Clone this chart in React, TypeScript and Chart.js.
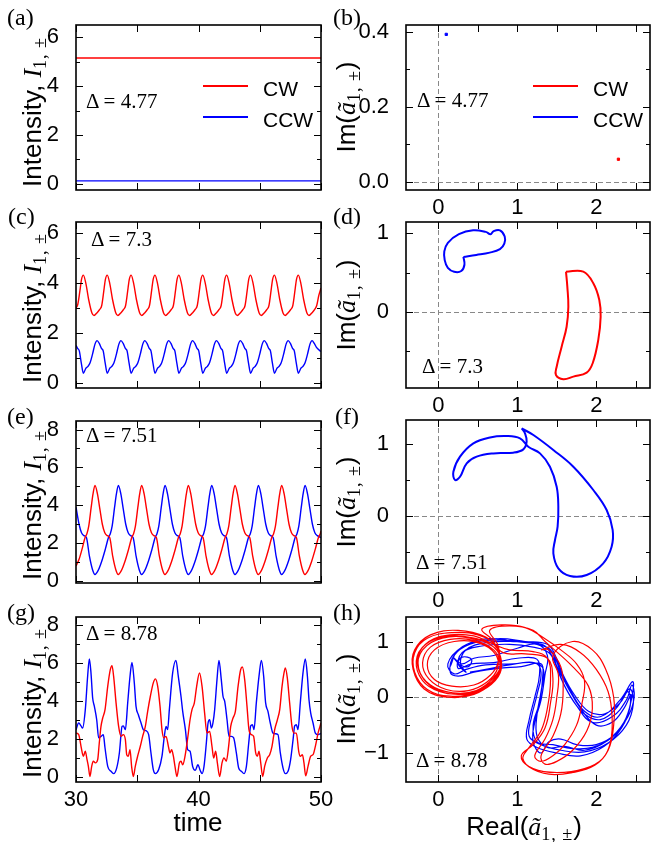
import { useEffect, useRef } from "react";
import type { ReactNode } from "react";
import { Chart, registerables } from "chart.js";

Chart.register(...registerables);

const RED = "#ff0000";
const BLUE = "#0000ff";
const SANS = "'Liberation Sans', Arial, sans-serif";
const SERIF = "'Liberation Serif', 'Times New Roman', serif";

type Pt = [number, number];

// tick values
const timeTicks = [30, 40, 50];
const timeMinor = [35, 45];
const intTicks6 = [0, 2, 4, 6];
const intMinor6 = [1, 3, 5];
const intTicks8 = [0, 2, 4, 6, 8];
const intMinor8 = [1, 3, 5, 7];
const realTicks = [0, 1, 2];
const realMinor = [0.5, 1.5, 2.5];
const imTicksB = [0, 0.2, 0.4];
const imMinorB = [0.1, 0.3];
const imTicksDF = [0, 1];
const imMinorDF = [-0.5, 0.5];
const imTicksH = [-1, 0, 1];
const imMinorH = [-0.5, 0.5];

// (a) steady state, Δ = 4.77
const aCW: Pt[] = [[30, 5.15], [50, 5.15]];
const aCCW: Pt[] = [[30, 0.12], [50, 0.12]];

// (b) fixed points
const bCW: Pt[] = [[2.28, 0.06]];
const bCCW: Pt[] = [[0.1, 0.393]];

// (c) Δ = 7.3
const cCW: Pt[] = [
  [30, 3.0], [30.15, 3.15], [30.35, 3.8], [30.45, 4.15], [30.6, 4.32], [30.8, 4.0], [31.05, 3.3], [31.3, 2.8], [31.47, 2.7], [31.7, 2.8], [31.95, 2.95], [32.1, 3.1], [32.3, 3.8], [32.4, 4.15],
  [32.55, 4.32], [32.75, 4.0], [33.0, 3.3], [33.25, 2.8], [33.42, 2.7], [33.65, 2.8], [33.9, 2.95], [34.05, 3.1], [34.25, 3.8], [34.35, 4.15],
  [34.5, 4.32], [34.7, 4.0], [34.95, 3.3], [35.2, 2.8], [35.37, 2.7], [35.6, 2.8], [35.85, 2.95], [36.0, 3.1], [36.2, 3.8], [36.3, 4.15],
  [36.45, 4.32], [36.65, 4.0], [36.9, 3.3], [37.15, 2.8], [37.32, 2.7], [37.55, 2.8], [37.8, 2.95], [37.95, 3.1], [38.15, 3.8], [38.25, 4.15],
  [38.4, 4.32], [38.6, 4.0], [38.85, 3.3], [39.1, 2.8], [39.27, 2.7], [39.5, 2.8], [39.75, 2.95], [39.9, 3.1], [40.1, 3.8], [40.2, 4.15],
  [40.35, 4.32], [40.55, 4.0], [40.8, 3.3], [41.05, 2.8], [41.22, 2.7], [41.45, 2.8], [41.7, 2.95], [41.85, 3.1], [42.05, 3.8], [42.15, 4.15],
  [42.3, 4.32], [42.5, 4.0], [42.75, 3.3], [43.0, 2.8], [43.17, 2.7], [43.4, 2.8], [43.65, 2.95], [43.8, 3.1], [44.0, 3.8], [44.1, 4.15],
  [44.25, 4.32], [44.45, 4.0], [44.7, 3.3], [44.95, 2.8], [45.12, 2.7], [45.35, 2.8], [45.6, 2.95], [45.75, 3.1], [45.95, 3.8], [46.05, 4.15],
  [46.2, 4.32], [46.4, 4.0], [46.65, 3.3], [46.9, 2.8], [47.07, 2.7], [47.3, 2.8], [47.55, 2.95], [47.7, 3.1], [47.9, 3.8], [48.0, 4.15],
  [48.15, 4.32], [48.35, 4.0], [48.6, 3.3], [48.85, 2.8], [49.02, 2.7], [49.25, 2.8], [49.5, 2.95], [49.65, 3.1], [49.82, 3.5], [50, 3.8],
];
const cCCW: Pt[] = [
  [30, 1.5], [30.13, 1.38], [30.27, 1.28], [30.43, 0.8], [30.6, 0.38], [30.8, 0.58], [30.98, 0.66], [31.15, 0.8], [31.35, 1.15], [31.55, 1.55], [31.72, 1.69], [31.9, 1.58], [32.08, 1.38], [32.22, 1.28], [32.38, 0.8],
  [32.55, 0.38], [32.75, 0.58], [32.93, 0.66], [33.1, 0.8], [33.3, 1.15], [33.5, 1.55], [33.67, 1.69], [33.85, 1.58], [34.03, 1.38], [34.17, 1.28], [34.33, 0.8],
  [34.5, 0.38], [34.7, 0.58], [34.88, 0.66], [35.05, 0.8], [35.25, 1.15], [35.45, 1.55], [35.62, 1.69], [35.8, 1.58], [35.98, 1.38], [36.12, 1.28], [36.28, 0.8],
  [36.45, 0.38], [36.65, 0.58], [36.83, 0.66], [37.0, 0.8], [37.2, 1.15], [37.4, 1.55], [37.57, 1.69], [37.75, 1.58], [37.93, 1.38], [38.07, 1.28], [38.23, 0.8],
  [38.4, 0.38], [38.6, 0.58], [38.78, 0.66], [38.95, 0.8], [39.15, 1.15], [39.35, 1.55], [39.52, 1.69], [39.7, 1.58], [39.88, 1.38], [40.02, 1.28], [40.18, 0.8],
  [40.35, 0.38], [40.55, 0.58], [40.73, 0.66], [40.9, 0.8], [41.1, 1.15], [41.3, 1.55], [41.47, 1.69], [41.65, 1.58], [41.83, 1.38], [41.97, 1.28], [42.13, 0.8],
  [42.3, 0.38], [42.5, 0.58], [42.68, 0.66], [42.85, 0.8], [43.05, 1.15], [43.25, 1.55], [43.42, 1.69], [43.6, 1.58], [43.78, 1.38], [43.92, 1.28], [44.08, 0.8],
  [44.25, 0.38], [44.45, 0.58], [44.63, 0.66], [44.8, 0.8], [45.0, 1.15], [45.2, 1.55], [45.37, 1.69], [45.55, 1.58], [45.73, 1.38], [45.87, 1.28], [46.03, 0.8],
  [46.2, 0.38], [46.4, 0.58], [46.58, 0.66], [46.75, 0.8], [46.95, 1.15], [47.15, 1.55], [47.32, 1.69], [47.5, 1.58], [47.68, 1.38], [47.82, 1.28], [47.98, 0.8],
  [48.15, 0.38], [48.35, 0.58], [48.53, 0.66], [48.7, 0.8], [48.9, 1.15], [49.1, 1.55], [49.27, 1.69], [49.45, 1.58], [49.63, 1.42], [50, 1.25],
];

// (e) Δ = 7.51
const eCW: Pt[] = [
  [30, 0.8], [30.25, 1.15], [30.5, 1.7], [30.74, 2.3], [30.89, 2.5], [31.04, 2.9], [31.24, 3.9], [31.39, 4.6],
  [31.55, 5.05], [31.75, 4.6], [31.95, 3.8], [32.15, 3.0], [32.35, 2.55], [32.55, 2.4], [32.75, 2.3], [33.0, 1.3], [33.25, 0.6], [33.45, 0.35], [33.7, 0.55], [34.0, 1.05], [34.3, 1.7], [34.55, 2.3], [34.7, 2.5], [34.85, 2.9], [35.05, 3.9], [35.2, 4.6],
  [35.36, 5.05], [35.56, 4.6], [35.76, 3.8], [35.96, 3.0], [36.16, 2.55], [36.36, 2.4], [36.56, 2.3], [36.81, 1.3], [37.06, 0.6], [37.26, 0.35], [37.51, 0.55], [37.81, 1.05], [38.11, 1.7], [38.36, 2.3], [38.51, 2.5], [38.66, 2.9], [38.86, 3.9], [39.01, 4.6],
  [39.17, 5.05], [39.37, 4.6], [39.57, 3.8], [39.77, 3.0], [39.97, 2.55], [40.17, 2.4], [40.37, 2.3], [40.62, 1.3], [40.87, 0.6], [41.07, 0.35], [41.32, 0.55], [41.62, 1.05], [41.92, 1.7], [42.17, 2.3], [42.32, 2.5], [42.47, 2.9], [42.67, 3.9], [42.82, 4.6],
  [42.98, 5.05], [43.18, 4.6], [43.38, 3.8], [43.58, 3.0], [43.78, 2.55], [43.98, 2.4], [44.18, 2.3], [44.43, 1.3], [44.68, 0.6], [44.88, 0.35], [45.13, 0.55], [45.43, 1.05], [45.73, 1.7], [45.98, 2.3], [46.13, 2.5], [46.28, 2.9], [46.48, 3.9], [46.63, 4.6],
  [46.79, 5.05], [46.99, 4.6], [47.19, 3.8], [47.39, 3.0], [47.59, 2.55], [47.79, 2.4], [47.99, 2.3], [48.24, 1.3], [48.49, 0.6], [48.69, 0.35], [48.94, 0.55], [49.24, 1.05], [49.54, 1.7], [49.79, 2.3], [49.94, 2.5], [50, 2.65],
];
const eCCW: Pt[] = [
  [30, 3.9], [30.25, 3.0], [30.45, 2.55], [30.65, 2.4], [30.85, 2.3], [31.1, 1.3], [31.35, 0.6], [31.55, 0.35], [31.8, 0.55], [32.1, 1.05], [32.4, 1.7], [32.65, 2.3], [32.8, 2.5], [32.95, 2.9], [33.15, 3.9], [33.3, 4.6],
  [33.46, 5.05], [33.66, 4.6], [33.86, 3.8], [34.06, 3.0], [34.26, 2.55], [34.46, 2.4], [34.66, 2.3], [34.91, 1.3], [35.16, 0.6], [35.36, 0.35], [35.61, 0.55], [35.91, 1.05], [36.21, 1.7], [36.46, 2.3], [36.61, 2.5], [36.76, 2.9], [36.96, 3.9], [37.11, 4.6],
  [37.27, 5.05], [37.47, 4.6], [37.67, 3.8], [37.87, 3.0], [38.07, 2.55], [38.27, 2.4], [38.47, 2.3], [38.72, 1.3], [38.97, 0.6], [39.17, 0.35], [39.42, 0.55], [39.72, 1.05], [40.02, 1.7], [40.27, 2.3], [40.42, 2.5], [40.57, 2.9], [40.77, 3.9], [40.92, 4.6],
  [41.08, 5.05], [41.28, 4.6], [41.48, 3.8], [41.68, 3.0], [41.88, 2.55], [42.08, 2.4], [42.28, 2.3], [42.53, 1.3], [42.78, 0.6], [42.98, 0.35], [43.23, 0.55], [43.53, 1.05], [43.83, 1.7], [44.08, 2.3], [44.23, 2.5], [44.38, 2.9], [44.58, 3.9], [44.73, 4.6],
  [44.89, 5.05], [45.09, 4.6], [45.29, 3.8], [45.49, 3.0], [45.69, 2.55], [45.89, 2.4], [46.09, 2.3], [46.34, 1.3], [46.59, 0.6], [46.79, 0.35], [47.04, 0.55], [47.34, 1.05], [47.64, 1.7], [47.89, 2.3], [48.04, 2.5], [48.19, 2.9], [48.39, 3.9], [48.54, 4.6],
  [48.7, 5.05], [48.9, 4.6], [49.1, 3.8], [49.3, 3.0], [49.5, 2.55], [49.7, 2.4], [50, 2.3],
];

// (g) Δ = 8.78
const gCW: Pt[] = [
  [30, 2.32], [30.22, 2.24], [30.41, 1.63], [30.6, 1.11], [30.76, 1.37], [30.9, 0.93], [31.01, 0.58], [31.14, 0.05], [31.28, 0.58], [31.41, 0.85], [31.58, 0.76], [31.77, 0.93], [31.9, 1.8], [32.04, 2.67], [32.18, 3.11], [32.37, 3.55], [32.59, 4.77], [32.8, 5.64], [32.94, 5.85],
  [33.07, 5.3], [33.27, 3.9], [33.48, 2.67], [33.67, 2.15], [33.86, 2.24], [34.03, 1.98], [34.14, 1.19], [34.27, 1.11], [34.41, 1.45], [34.54, 0.58], [34.68, 0.05], [34.84, 0.58], [35.03, 1.11], [35.25, 1.63], [35.44, 2.15], [35.66, 2.67], [35.85, 3.46], [36.07, 4.25], [36.31, 4.95], [36.48, 5.16],
  [36.67, 4.77], [36.86, 3.72], [37.02, 2.5], [37.16, 2.07], [37.35, 2.15], [37.54, 1.63], [37.67, 1.28], [37.81, 1.45], [37.95, 1.11], [38.08, 0.58], [38.24, 0.05], [38.44, 0.76], [38.57, 0.85], [38.71, 0.66], [38.9, 1.11], [39.12, 2.07], [39.31, 3.02], [39.47, 3.55], [39.66, 3.9], [39.85, 4.77], [40.08, 5.47],
  [40.29, 4.77], [40.5, 3.37], [40.69, 2.32], [40.91, 2.41], [41.1, 1.63], [41.24, 1.02], [41.4, 1.37], [41.54, 0.76], [41.73, 0.05], [41.92, 0.76], [42.08, 1.02], [42.27, 0.85], [42.46, 1.63], [42.63, 2.67], [42.82, 3.11], [43.01, 3.46], [43.23, 4.77], [43.44, 5.64], [43.58, 5.78],
  [43.77, 5.12], [43.96, 3.72], [44.12, 2.5], [44.31, 2.24], [44.5, 2.15], [44.67, 1.28], [44.8, 1.11], [44.94, 1.37], [45.08, 0.76], [45.24, 0.05], [45.4, 0.58], [45.62, 1.02], [45.81, 1.19], [46.0, 1.63], [46.22, 2.5], [46.44, 3.02], [46.63, 3.55], [46.82, 4.77], [46.98, 5.47], [47.09, 5.73],
  [47.25, 5.21], [47.44, 3.9], [47.63, 2.67], [47.8, 2.32], [47.99, 2.32], [48.18, 1.37], [48.31, 1.11], [48.48, 1.19], [48.61, 0.76], [48.75, 0.08], [48.94, 0.58], [49.16, 1.11], [49.35, 1.19], [49.54, 1.63], [49.76, 2.32], [50, 2.85],
];
const gCCW: Pt[] = [
  [30, 2.5], [30.22, 2.85], [30.41, 2.7], [30.54, 2.58], [30.76, 3.55], [30.95, 5.3], [31.09, 6.2], [31.22, 5.5], [31.36, 4.16], [31.5, 3.72], [31.69, 3.02], [31.85, 2.07], [32.04, 2.15], [32.23, 2.24], [32.37, 1.54], [32.59, 0.58], [32.86, 0.32], [33.07, 0.2], [33.32, 0.49], [33.54, 1.28],
  [33.76, 2.67], [33.86, 2.7], [34.03, 2.5], [34.22, 3.9], [34.41, 5.3], [34.57, 6.02], [34.76, 4.95], [34.9, 3.72], [35.09, 3.28], [35.31, 2.85], [35.5, 2.5], [35.71, 2.45], [35.93, 2.24], [36.12, 1.28], [36.31, 0.41], [36.48, 0.2], [36.75, 0.41], [37.02, 1.11],
  [37.21, 2.15], [37.35, 2.67], [37.48, 2.5], [37.62, 3.55], [37.89, 5.47], [38.16, 6.13], [38.35, 5.3], [38.57, 4.25], [38.71, 3.46], [38.93, 2.5], [39.12, 1.45], [39.31, 1.37], [39.52, 0.58], [39.74, 0.37], [39.95, 0.66], [40.15, 0.35], [40.29, 0.2], [40.45, 0.58],
  [40.64, 1.8], [40.78, 2.85], [40.91, 3.02], [41.05, 2.58], [41.18, 2.85], [41.32, 3.55], [41.51, 5.12], [41.67, 6.13], [41.86, 5.12], [42.0, 4.25], [42.14, 3.98], [42.33, 3.02], [42.49, 2.15], [42.68, 2.15], [42.87, 2.07], [43.09, 1.28], [43.28, 0.49], [43.5, 0.32], [43.72, 0.2],
  [43.91, 0.58], [44.1, 1.8], [44.26, 2.7], [44.4, 2.76], [44.53, 2.5], [44.72, 3.9], [44.94, 5.3], [45.13, 6.13], [45.32, 5.3], [45.48, 3.9], [45.67, 3.46], [45.86, 2.85], [46.08, 2.32], [46.27, 2.29], [46.49, 2.24], [46.68, 1.28], [46.9, 0.49], [47.09, 0.2], [47.31, 0.32],
  [47.52, 0.93], [47.72, 1.98], [47.85, 2.7], [47.99, 2.76], [48.12, 2.5], [48.31, 3.9], [48.53, 5.47], [48.72, 6.2], [48.89, 5.3], [49.02, 4.07], [49.16, 3.37], [49.35, 2.85], [49.54, 2.32], [49.76, 2.24], [50, 2.3],
];

// (d) limit cycles, Δ = 7.3
const dCW: Pt[] = [
  [1.616, 0.511], [1.835, 0.511], [1.962, 0.363], [2.038, 0.149], [2.055, -0.064], [2.025, -0.361], [1.954, -0.659], [1.878, -0.778], [1.709, -0.83], [1.582, -0.864],
  [1.489, -0.809], [1.498, -0.703], [1.561, -0.447], [1.624, -0.192], [1.646, 0.064], [1.633, 0.32], [1.616, 0.511],
];
const dCCW: Pt[] = [
  [0.317, 0.7], [0.33, 0.6], [0.29, 0.52], [0.2, 0.51], [0.12, 0.56], [0.08, 0.66], [0.075, 0.77], [0.12, 0.88], [0.26, 0.99], [0.44, 1.04], [0.6, 1.02],
  [0.66, 0.99], [0.7, 1.03], [0.78, 1.04], [0.84, 0.96], [0.835, 0.87], [0.78, 0.8], [0.65, 0.755], [0.48, 0.725], [0.317, 0.7],
];

// (f) limit cycle, Δ = 7.51
const fCCW: Pt[] = [
  [1.055, 1.223], [1.203, 1.13], [1.456, 0.921], [1.709, 0.688], [1.962, 0.363], [2.131, 0.084], [2.207, -0.195], [2.194, -0.428], [2.088, -0.66], [1.878, -0.823],
  [1.667, -0.837], [1.519, -0.73], [1.456, -0.521], [1.477, -0.335], [1.51, -0.149], [1.519, 0.13], [1.498, 0.409], [1.413, 0.688], [1.287, 0.874], [1.139, 0.967],
  [1.034, 1.084], [0.865, 1.116], [0.654, 1.097], [0.443, 1.014], [0.274, 0.828], [0.19, 0.618], [0.211, 0.502], [0.274, 0.548], [0.359, 0.735], [0.485, 0.828],
  [0.696, 0.874], [0.949, 0.884], [1.076, 0.93], [1.118, 1.037], [1.097, 1.153], [1.055, 1.223],
];

// (h) chaotic attractor, Δ = 8.78
const hCW: Pt[] = [
  [1.3, 0.85], [1.55, 0.95], [1.8, 0.8], [2.0, 0.5], [2.15, 0.1], [2.2, -0.35], [2.18, -0.8], [2.08, -1.1], [1.85, -1.28], [1.5, -1.35], [1.2, -1.28], [1.07, -1.1],
  [1.15, -0.9], [1.3, -0.6], [1.38, -0.2], [1.42, 0.3], [1.38, 0.7], [1.2, 0.82], [0.9, 0.85], [0.7, 0.95],
  [0.45, 1.1], [0.15, 1.12], [-0.12, 1.0], [-0.26, 0.72], [-0.22, 0.4], [-0.04, 0.15], [0.25, 0.05], [0.52, 0.12], [0.72, 0.35], [0.78, 0.6], [0.7, 0.85],
  [0.45, 1.02], [0.15, 1.04], [-0.1, 0.9], [-0.2, 0.62], [-0.12, 0.33], [0.1, 0.14], [0.38, 0.12], [0.62, 0.28], [0.75, 0.52], [0.72, 0.78],
  [0.5, 0.98], [0.2, 1.0], [-0.05, 0.85], [-0.14, 0.58], [-0.05, 0.32], [0.17, 0.2], [0.45, 0.22], [0.66, 0.4], [0.76, 0.65],
  [0.74, 0.92], [0.5, 1.12], [0.18, 1.16], [-0.14, 1.06], [-0.3, 0.8], [-0.3, 0.45], [-0.14, 0.14], [0.15, 0.02], [0.48, 0.08], [0.72, 0.3], [0.8, 0.58],
  [0.7, 1.0], [0.55, 1.22], [0.8, 1.3], [1.1, 1.25], [1.35, 1.05], [1.55, 0.85],
  [1.75, 0.6], [1.85, 0.3], [1.82, -0.1], [1.75, -0.5], [1.6, -0.85], [1.45, -1.05], [1.3, -1.15], [1.22, -1.05], [1.35, -0.75], [1.45, -0.4], [1.5, 0.0], [1.52, 0.4], [1.45, 0.75],
  [1.7, 1.0], [1.95, 0.85], [2.12, 0.5], [2.22, 0.0], [2.22, -0.5], [2.15, -0.95], [1.98, -1.22], [1.7, -1.35], [1.4, -1.38], [1.15, -1.25], [1.05, -1.05], [1.2, -0.85],
  [1.35, -0.55], [1.42, -0.1], [1.45, 0.35], [1.38, 0.7], [1.1, 0.78], [0.82, 0.8],
  [0.6, 1.08], [0.25, 1.2], [-0.1, 1.12], [-0.3, 0.85], [-0.32, 0.5], [-0.18, 0.15], [0.12, 0.0], [0.45, 0.05], [0.7, 0.28], [0.8, 0.55],
  [0.72, 0.88], [0.4, 1.06], [0.05, 1.06], [-0.2, 0.85], [-0.25, 0.52], [-0.1, 0.22], [0.18, 0.08], [0.48, 0.12], [0.7, 0.35], [0.8, 0.62],
  [0.7, 0.9], [0.45, 1.06], [0.12, 1.1], [-0.16, 0.95], [-0.28, 0.65], [-0.2, 0.3], [0.02, 0.1], [0.3, 0.06], [0.58, 0.18], [0.76, 0.42], [0.78, 0.7],
  [0.75, 0.95], [0.65, 1.2], [0.9, 1.28], [1.2, 1.2], [1.35, 1.0],
  [1.7, 0.55], [1.9, 0.2], [1.95, -0.2], [1.88, -0.6], [1.7, -0.95], [1.5, -1.15], [1.35, -1.2], [1.3, -1.05], [1.45, -0.7], [1.55, -0.3], [1.58, 0.15], [1.55, 0.55], [1.4, 0.85], [1.3, 0.85],
];
const hCCW: Pt[] = [
  [0.15, 0.55], [0.25, 0.85], [0.5, 1.0], [0.85, 1.02], [1.15, 0.98], [1.35, 0.92], [1.45, 0.7], [1.55, 0.35], [1.68, 0.0], [1.85, -0.3], [2.05, -0.4], [2.25, -0.2], [2.42, 0.15],
  [2.47, -0.1], [2.38, -0.5], [2.15, -0.82], [1.85, -0.98], [1.55, -0.95], [1.3, -0.85], [1.15, -0.7], [1.18, -0.35], [1.25, 0.05], [1.3, 0.45], [1.22, 0.62], [0.95, 0.6],
  [0.6, 0.58], [0.35, 0.5], [0.2, 0.42], [0.12, 0.6],
  [0.3, 0.9], [0.6, 1.05], [0.95, 1.0], [1.25, 0.95], [1.42, 0.85], [1.5, 0.55], [1.6, 0.2], [1.75, -0.15], [1.95, -0.45], [2.2, -0.35], [2.38, -0.05], [2.45, 0.22],
  [2.48, 0.0], [2.4, -0.35], [2.2, -0.72], [1.95, -0.9], [1.7, -0.92], [1.45, -0.85], [1.25, -0.8], [1.2, -0.5], [1.28, -0.1], [1.32, 0.35], [1.3, 0.6], [1.05, 0.55],
  [0.75, 0.52], [0.45, 0.45], [0.25, 0.38], [0.15, 0.45],
  [0.2, 0.75], [0.4, 0.95], [0.75, 1.05], [1.1, 1.0], [1.38, 0.95], [1.48, 0.75], [1.58, 0.4], [1.72, 0.05], [1.9, -0.25], [2.1, -0.3], [2.3, -0.1], [2.4, 0.1],
  [2.43, -0.15], [2.32, -0.55], [2.1, -0.88], [1.8, -1.05], [1.5, -1.0], [1.25, -0.9], [1.12, -0.75], [1.15, -0.4], [1.22, 0.0], [1.28, 0.4], [1.25, 0.68], [1.0, 0.7],
  [0.7, 0.62], [0.42, 0.6], [0.25, 0.52],
  [0.3, 0.8], [0.55, 0.92], [0.9, 0.95], [1.2, 0.9], [1.4, 0.8], [1.52, 0.5], [1.65, 0.15], [1.8, -0.2], [2.0, -0.5], [2.2, -0.45], [2.35, -0.2], [2.44, 0.05],
  [2.4, -0.3], [2.25, -0.65], [2.0, -0.85], [1.75, -0.85], [1.55, -0.75], [1.4, -0.8], [1.3, -1.0], [1.2, -0.8], [1.22, -0.45], [1.3, -0.05], [1.35, 0.4], [1.38, 0.75],
  [1.25, 0.95], [1.0, 0.88], [0.7, 0.75], [0.45, 0.7], [0.3, 0.6], [0.2, 0.7],
  [0.35, 0.45], [0.25, 0.6], [0.3, 0.72], [0.42, 0.68], [0.38, 0.55], [0.28, 0.6], [0.35, 0.85], [0.6, 0.98], [0.95, 1.0], [1.3, 0.95], [1.45, 0.78], [1.55, 0.45],
  [1.68, 0.1], [1.85, -0.25], [2.05, -0.35], [2.3, -0.05], [2.46, 0.28], [2.45, 0.0], [2.35, -0.45], [2.12, -0.8], [1.85, -0.95], [1.6, -0.88], [1.38, -0.9], [1.25, -0.7],
  [1.25, -0.3], [1.3, 0.1], [1.33, 0.5], [1.2, 0.62], [0.9, 0.58], [0.6, 0.5], [0.4, 0.45],
];

type Series = { data: Pt[]; color: string; width: number; mode: "step" | "time" | "loop" | "dot" };
type Panel = {
  left: number; top: number; w: number; h: number;
  x: [number, number]; y: [number, number];
  xTicks: number[]; xMinor: number[]; yTicks: number[]; yMinor: number[];
  xLabels: boolean; yDigits: number; zero: boolean; series: Series[];
};

const YW = 70;
const PT = 8;
const PR = 26;
const TICK_FONT = 22;

const fmt = (v: number, d: number) => (v < 0 ? "\u2212" + Math.abs(v).toFixed(d) : v.toFixed(d));

function PanelChart({ p }: { p: Panel }) {
  const ref = useRef<HTMLCanvasElement>(null);
  const XH = p.xLabels ? 36 : 4;

  useEffect(() => {
    if (!ref.current) return;
    const frame = {
      id: "frame",
      beforeDatasetsDraw(chart: Chart) {
        if (!p.zero) return;
        const { ctx, chartArea: a } = chart;
        const sx = chart.scales.x, sy = chart.scales.y;
        ctx.save();
        ctx.strokeStyle = "#888888";
        ctx.lineWidth = 1;
        ctx.setLineDash([5, 3]);
        const px = Math.round(sx.getPixelForValue(0)) + 0.5;
        const py = Math.round(sy.getPixelForValue(0)) + 0.5;
        ctx.beginPath();
        ctx.moveTo(px, a.top); ctx.lineTo(px, a.bottom);
        ctx.moveTo(a.left, py); ctx.lineTo(a.right, py);
        ctx.stroke();
        ctx.restore();
      },
      afterDraw(chart: Chart) {
        const { ctx, chartArea: a } = chart;
        const sx = chart.scales.x, sy = chart.scales.y;
        ctx.save();
        ctx.strokeStyle = "#000";
        ctx.lineWidth = 1;
        ctx.beginPath();
        const tickX = (vals: number[], len: number) => {
          vals.forEach((v) => {
            const px = Math.round(sx.getPixelForValue(v)) + 0.5;
            ctx.moveTo(px, a.bottom); ctx.lineTo(px, a.bottom - len);
            ctx.moveTo(px, a.top); ctx.lineTo(px, a.top + len);
          });
        };
        const tickY = (vals: number[], len: number) => {
          vals.forEach((v) => {
            const py = Math.round(sy.getPixelForValue(v)) + 0.5;
            ctx.moveTo(a.left, py); ctx.lineTo(a.left + len, py);
            ctx.moveTo(a.right, py); ctx.lineTo(a.right - len, py);
          });
        };
        tickX(p.xTicks, 7); tickX(p.xMinor, 7);
        tickY(p.yTicks, 7); tickY(p.yMinor, 4);
        ctx.stroke();
        ctx.lineWidth = 1.6;
        ctx.strokeRect(a.left, a.top, a.right - a.left, a.bottom - a.top);
        ctx.restore();
      },
    };

    const chart = new Chart(ref.current, {
      type: "scatter",
      data: {
        datasets: p.series.map((s) => ({
          data: s.data.map(([x, y]) => ({ x, y })),
          borderColor: s.color,
          backgroundColor: s.color,
          borderWidth: s.width,
          showLine: s.mode !== "dot",
          pointRadius: s.mode === "dot" ? 1.6 : 0,
          pointStyle: "rect",
          tension: s.mode === "loop" ? 0.4 : 0,
          cubicInterpolationMode: s.mode === "time" ? "monotone" : "default",
        })),
      },
      options: {
        animation: false,
        responsive: false,
        events: [],
        layout: { padding: { top: PT, right: PR, left: 0, bottom: 0 } },
        plugins: { legend: { display: false }, tooltip: { enabled: false } },
        scales: {
          x: {
            type: "linear",
            min: p.x[0],
            max: p.x[1],
            bounds: "data",
            grid: { display: false },
            border: { display: false },
            ticks: {
              display: p.xLabels,
              padding: -3,
              color: "#000",
              font: { family: SANS, size: TICK_FONT },
              maxRotation: 0,
              autoSkip: false,
              callback: (v) => fmt(Number(v), 0),
            },
            afterBuildTicks: (s) => {
              s.ticks = p.xTicks.map((v) => ({ value: v }));
            },
            afterFit: (s) => {
              s.height = XH;
              s.paddingLeft = 0;
              s.paddingRight = 0;
            },
          },
          y: {
            type: "linear",
            min: p.y[0],
            max: p.y[1],
            bounds: "data",
            grid: { display: false },
            border: { display: false },
            ticks: {
              padding: 9,
              color: "#000",
              font: { family: SANS, size: TICK_FONT },
              autoSkip: false,
              callback: (v) => fmt(Number(v), p.yDigits),
            },
            afterBuildTicks: (s) => {
              s.ticks = p.yTicks.map((v) => ({ value: v }));
            },
            afterFit: (s) => {
              s.width = YW;
              s.paddingTop = 0;
              s.paddingBottom = 0;
            },
          },
        },
      },
      plugins: [frame],
    });
    return () => chart.destroy();
  }, [p, XH]);

  const cw = YW + p.w + PR;
  const ch = PT + p.h + XH;
  return (
    <canvas
      ref={ref}
      width={cw}
      height={ch}
      style={{ position: "absolute", left: p.left - YW, top: p.top - PT, width: cw, height: ch }}
    />
  );
}

const LX = 76, LW = 245, RX = 406, RW = 244;
const realRange: [number, number] = [-0.41, 2.68];

const panels: Panel[] = [
  { left: LX, top: 25, w: LW, h: 165, x: [30, 50], y: [-0.25, 6.5], xTicks: timeTicks, xMinor: timeMinor, yTicks: intTicks6, yMinor: intMinor6, xLabels: false, yDigits: 0, zero: false,
    series: [{ data: aCW, color: RED, width: 1.3, mode: "step" }, { data: aCCW, color: BLUE, width: 1.3, mode: "step" }] },
  { left: RX, top: 25, w: RW, h: 165, x: realRange, y: [-0.022, 0.418], xTicks: realTicks, xMinor: realMinor, yTicks: imTicksB, yMinor: imMinorB, xLabels: true, yDigits: 1, zero: true,
    series: [{ data: bCW, color: RED, width: 1, mode: "dot" }, { data: bCCW, color: BLUE, width: 1, mode: "dot" }] },
  { left: LX, top: 222, w: LW, h: 166, x: [30, 50], y: [-0.21, 6.45], xTicks: timeTicks, xMinor: timeMinor, yTicks: intTicks6, yMinor: intMinor6, xLabels: false, yDigits: 0, zero: false,
    series: [{ data: cCW, color: RED, width: 1.4, mode: "time" }, { data: cCCW, color: BLUE, width: 1.4, mode: "time" }] },
  { left: RX, top: 222, w: RW, h: 166, x: realRange, y: [-0.975, 1.146], xTicks: realTicks, xMinor: realMinor, yTicks: imTicksDF, yMinor: imMinorDF, xLabels: true, yDigits: 0, zero: true,
    series: [{ data: dCW, color: RED, width: 2, mode: "loop" }, { data: dCCW, color: BLUE, width: 2, mode: "loop" }] },
  { left: LX, top: 421, w: LW, h: 162, x: [30, 50], y: [-0.1, 8.45], xTicks: timeTicks, xMinor: timeMinor, yTicks: intTicks8, yMinor: intMinor8, xLabels: false, yDigits: 0, zero: false,
    series: [{ data: eCW, color: RED, width: 1.4, mode: "time" }, { data: eCCW, color: BLUE, width: 1.4, mode: "time" }] },
  { left: RX, top: 420, w: RW, h: 163, x: realRange, y: [-0.935, 1.34], xTicks: realTicks, xMinor: realMinor, yTicks: imTicksDF, yMinor: imMinorDF, xLabels: true, yDigits: 0, zero: true,
    series: [{ data: fCCW, color: BLUE, width: 2, mode: "loop" }] },
  { left: LX, top: 617, w: LW, h: 165, x: [30, 50], y: [-0.24, 8.4], xTicks: timeTicks, xMinor: timeMinor, yTicks: intTicks8, yMinor: intMinor8, xLabels: true, yDigits: 0, zero: false,
    series: [{ data: gCW, color: RED, width: 1.4, mode: "time" }, { data: gCCW, color: BLUE, width: 1.4, mode: "time" }] },
  { left: RX, top: 617, w: RW, h: 165, x: realRange, y: [-1.52, 1.44], xTicks: realTicks, xMinor: realMinor, yTicks: imTicksH, yMinor: imMinorH, xLabels: true, yDigits: 0, zero: true,
    series: [{ data: hCW, color: RED, width: 1.2, mode: "loop" }, { data: hCCW, color: BLUE, width: 1.2, mode: "loop" }] },
];

function Txt({ x, y, children, size = 21, family = SERIF, vc = true }: { x: number; y: number; children: ReactNode; size?: number; family?: string; vc?: boolean }) {
  return (
    <div style={{ position: "absolute", left: x, top: y, transform: vc ? "translateY(-50%)" : undefined, font: `${size}px ${family}`, lineHeight: 1, whiteSpace: "nowrap", color: "#000" }}>
      {children}
    </div>
  );
}

function Sub({ children }: { children: ReactNode }) {
  return <span style={{ fontFamily: SERIF, fontSize: "0.7em", position: "relative", top: "0.3em", letterSpacing: "0.05em" }}>{children}</span>;
}

function AxisLabel({ cx, cy, rotate, children }: { cx: number; cy: number; rotate?: boolean; children: ReactNode }) {
  return (
    <div style={{ position: "absolute", left: cx, top: cy, transform: `translate(-50%, -50%)${rotate ? " rotate(-90deg)" : ""}`, font: `26px ${SANS}`, lineHeight: 1, whiteSpace: "nowrap", color: "#000" }}>
      {children}
    </div>
  );
}

const intensityLabel = (
  <>
    Intensity, <i style={{ fontFamily: SERIF }}>I</i><Sub>1, ±</Sub>
  </>
);
const atilde = <i style={{ fontFamily: SERIF }}>ã</i>;
const imLabel = (
  <>
    Im({atilde}<Sub>1, ±</Sub>)
  </>
);

function LegendRow({ x, y, color, width, label }: { x: number; y: number; color: string; width: number; label: string }) {
  return (
    <>
      <div style={{ position: "absolute", left: x, top: y - width / 2, width: 45, height: width, background: color }} />
      <Txt x={x + 60} y={y + 2} size={21} family={SANS}>{label}</Txt>
    </>
  );
}

const panelLetters = [
  { t: "(a)", x: 7, y: 5 }, { t: "(b)", x: 333, y: 5 },
  { t: "(c)", x: 8, y: 204 }, { t: "(d)", x: 333, y: 204 },
  { t: "(e)", x: 7, y: 404 }, { t: "(f)", x: 335, y: 404 },
  { t: "(g)", x: 7, y: 600 }, { t: "(h)", x: 333, y: 600 },
];

const deltas = [
  { t: "4.77", x: 86, y: 101 }, { t: "4.77", x: 417, y: 100 },
  { t: "7.3", x: 91, y: 239 }, { t: "7.3", x: 422, y: 366 },
  { t: "7.51", x: 86, y: 435 }, { t: "7.51", x: 416, y: 562 },
  { t: "8.78", x: 86, y: 633 }, { t: "8.78", x: 416, y: 760 },
];

export default function App() {
  useEffect(() => {
    Chart.defaults.font.family = SANS;
  }, []);
  return (
    <div style={{ position: "absolute", left: 0, top: 0, width: 652, height: 842, background: "#fff", overflow: "hidden" }}>
      {panels.map((p, i) => (
        <PanelChart key={i} p={p} />
      ))}
      {panelLetters.map((l) => (
        <Txt key={l.t} x={l.x} y={l.y} size={24} vc={false}>{l.t}</Txt>
      ))}
      {deltas.map((d, i) => (
        <Txt key={i} x={d.x} y={d.y}>{"Δ = " + d.t}</Txt>
      ))}
      <LegendRow x={203} y={86} color={RED} width={1.3} label="CW" />
      <LegendRow x={203} y={117} color={BLUE} width={1.3} label="CCW" />
      <LegendRow x={533} y={86} color={RED} width={2.6} label="CW" />
      <LegendRow x={533} y={117} color={BLUE} width={2.6} label="CCW" />
      {[112, 308, 505, 703].map((cy) => (
        <AxisLabel key={"l" + cy} cx={32} cy={cy} rotate>{intensityLabel}</AxisLabel>
      ))}
      {[107, 305, 502, 699].map((cy) => (
        <AxisLabel key={"r" + cy} cx={346} cy={cy} rotate>{imLabel}</AxisLabel>
      ))}
      <AxisLabel cx={198} cy={822}>time</AxisLabel>
      <AxisLabel cx={524} cy={826}>Real({atilde}<Sub>1, ±</Sub>)</AxisLabel>
    </div>
  );
}
